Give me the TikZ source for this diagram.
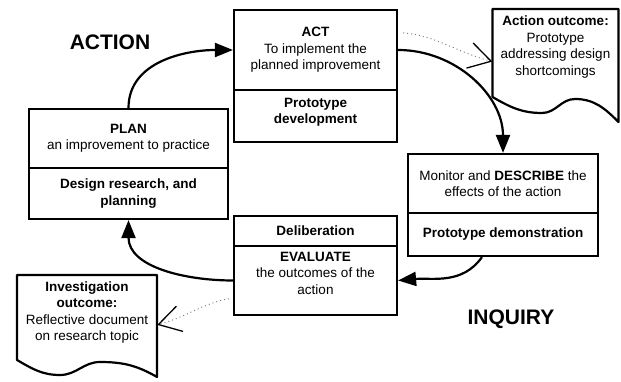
\documentclass[tikz,border=0pt]{standalone}
\usepackage{fontspec}
\setmainfont{Liberation Sans}
\usetikzlibrary{arrows.meta}

\begin{document}
\begin{tikzpicture}[x=1pt, y=1pt,
	part/.style={draw, line width=2.2pt, align=center, inner sep=2pt,
		font=\fontsize{13.5}{16.5}\selectfont},
	doctext/.style={align=center, inner sep=2pt,
		font=\fontsize{13.5}{16.5}\selectfont},
	page/.style={line width=2.2pt, line join=round},
	flow/.style={line width=2.2pt, -{Triangle[length=18pt,width=14pt]}},
	note/.style={gray, line width=1pt, dash pattern=on 1pt off 3pt,
		-{Straight Barb[length=22pt,width=26pt,color=black,line width=1.3pt]}},
	big/.style={font=\fontsize{21}{25}\selectfont\bfseries}]
	\useasboundingbox (0,0) rectangle (621,382);

	\node[part, minimum width=199pt, minimum height=59pt] (plan) at (128.5,243.5) {\textbf{PLAN}\\an improvement to practice};
	\node[part, minimum width=199pt, minimum height=51pt] (planbot) at (128.5,188.5) {\textbf{Design research, and}\\\textbf{planning}};

	\node[part, minimum width=163pt, minimum height=80pt] (act) at (315.5,332) {\textbf{ACT}\\To implement the\\planned improvement};
	\node[part, minimum width=163pt, minimum height=52pt, text depth=10pt] (actbot) at (315.5,266) {\textbf{Prototype}\\\textbf{development}};

	\node[part, minimum width=190pt, minimum height=59pt] (desc) at (503,198.5) {Monitor and \textbf{DESCRIBE} the\\effects of the action};
	\node[part, minimum width=190pt, minimum height=43pt] (descbot) at (503,147.5) {\textbf{Prototype demonstration}};

	\node[part, minimum width=163pt, minimum height=30pt] (eval) at (315.5,151) {\textbf{Deliberation}};
	\node[part, minimum width=163pt, minimum height=69pt, text depth=15pt] (evalbot) at (315.5,101.5) {\textbf{EVALUATE}\\the outcomes of the\\action};

	\node[doctext, minimum width=126pt] (actout) at (555.5,335) {\textbf{Action outcome:}\\Prototype\\addressing design\\shortcomings};
	\node[doctext, minimum width=140pt] (invout) at (87,69.5) {\textbf{Investigation}\\\textbf{outcome:}\\Reflective document\\on research topic};

	% document outlines
	\draw[page] (492.5,373) -- (618.5,373) -- (618.5,260) to[out=135,in=0] (575,283)
		to[out=180,in=0] (542,269) to[out=180,in=-30] (492.5,285) -- cycle;
	\draw[page] (17,107) -- (157,107) -- (157,5) to[out=150,in=0] (100,20)
		to[out=180,in=0] (60,7) to[out=180,in=-30] (17,22) -- cycle;

	\node[big] (action) at (110,339.5) {ACTION};
	\node[big] (inquiry) at (511,63) {INQUIRY};

	\draw[flow] (plan.north) to[out=90,in=180] (act.west);
	\draw[flow] (act.east) to[out=0,in=90] (desc.north);
	\draw[flow] (descbot.227) to[out=235,in=5] (evalbot.east);
	\draw[flow] (evalbot.west) to[out=180,in=-90] (planbot.south);

	\draw[note, shorten <=5pt] (act.12.5) to[out=-5,in=165] (actout.193.4);
	\draw[note, shorten <=4pt] (evalbot.192) to[out=190,in=15] (invout.-10);
\end{tikzpicture}
\end{document}
